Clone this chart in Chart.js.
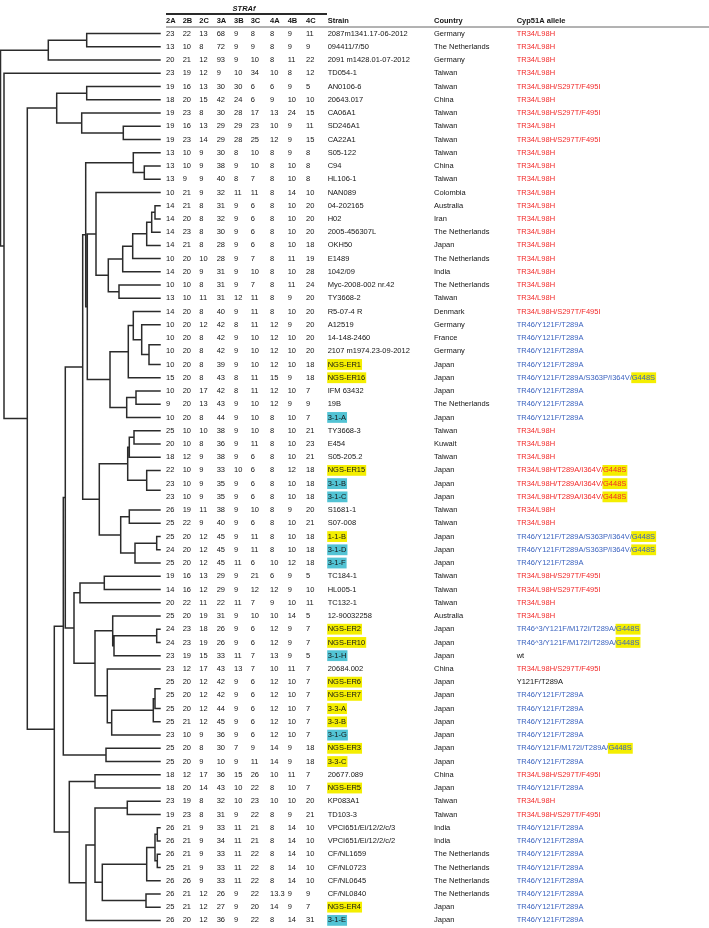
<!DOCTYPE html>
<html><head><meta charset="utf-8">
<script src="https://cdn.jsdelivr.net/npm/chart.js@4.4.1/dist/chart.umd.min.js"></script>
<style>html,body{margin:0;padding:0;background:#fff;overflow:hidden}#wrap{position:relative;width:709px;height:928px}</style>
</head><body><div id="wrap"><canvas id="c" width="709" height="928"></canvas></div>
<script>
// ---------- DATA ----------
const markers = ['2A','2B','2C','3A','3B','3C','4A','4B','4C'];
const strains = ['2087m1341.17-06-2012','094411/7/50','2091 m1428.01-07-2012','TD054-1','AN0106-6','20643.017','CA06A1','SD246A1','CA22A1','S05-122',
 'C94','HL106-1','NAN089','04-202165','H02','2005-456307L','OKH50','E1489','1042/09','Myc-2008-002 nr.42',
 'TY3668-2','R5-07-4 R','A12519','14-148-2460','2107 m1974.23-09-2012','NGS-ER1','NGS-ER16','IFM 63432','19B','3-1-A',
 'TY3668-3','E454','S05-205.2','NGS-ER15','3-1-B','3-1-C','S1681-1','S07-008','1-1-B','3-1-D',
 '3-1-F','TC184-1','HL005-1','TC132-1','12-90032258','NGS-ER2','NGS-ER10','3-1-H','20684.002','NGS-ER6',
 'NGS-ER7','3-3-A','3-3-B','3-1-G','NGS-ER3','3-3-C','20677.089','NGS-ER5','KP083A1','TD103-3',
 'VPCI651/Ei/12/2/c/3','VPCI651/Ei/12/2/c/2','CF/NL1659','CF/NL0723','CF/NL0645','CF/NL0840','NGS-ER4','3-1-E'];
// '' none, 'Y' yellow highlight, 'C' cyan highlight
const strainMark = ['','','','','','','','','','',
 '','','','','','','','','','',
 '','','','','','Y','Y','','','C',
 '','','','Y','C','C','','','Y','C',
 'C','','','','','Y','Y','C','','Y',
 'Y','Y','Y','C','Y','Y','','Y','',''
 ,'','','','','','','Y','C'];
const countries = ['Germany','The Netherlands','Germany','Taiwan','Taiwan','China','Taiwan','Taiwan','Taiwan','Taiwan',
 'China','Taiwan','Colombia','Australia','Iran','The Netherlands','Japan','The Netherlands','India','The Netherlands',
 'Taiwan','Denmark','Germany','France','Germany','Japan','Japan','Japan','The Netherlands','Japan',
 'Taiwan','Kuwait','Taiwan','Japan','Japan','Japan','Taiwan','Taiwan','Japan','Japan',
 'Japan','Taiwan','Taiwan','Taiwan','Australia','Japan','Japan','Japan','China','Japan',
 'Japan','Japan','Japan','Japan','Japan','Japan','China','Japan','Taiwan','Taiwan',
 'India','India','The Netherlands','The Netherlands','The Netherlands','The Netherlands','Japan','Japan'];
const A1='TR34/L98H', A2='TR34/L98H/S297T/F495I', B1='TR46/Y121F/T289A', B2='TR46/Y121F/T289A/S363P/I364V/G448S',
      A3='TR34/L98H/T289A/I364V/G448S', B3='TR46^3/Y121F/M172I/T289A/G448S', B4='TR46/Y121F/M172I/T289A/G448S';
const alleles = [A1,A1,A1,A1,A2,A1,A2,A1,A2,A1,
 A1,A1,A1,A1,A1,A1,A1,A1,A1,A1,
 A1,A2,B1,B1,B1,B1,B2,B1,B1,B1,
 A1,A1,A1,A3,A3,A3,A1,A1,B2,B2,
 B1,A2,A2,A1,A1,B3,B3,'wt',A2,'Y121F/T289A',
 B1,B1,B1,B1,B4,B1,A2,B1,A1,A2,
 B1,B1,B1,B1,B1,B1,B1,B1];
const str2A = [23,13,20,23,19,18,19,19,19,13, 13,13,10,14,14,14,14,10,14,10, 13,14,10,10,10,10,15,10,9,10, 25,20,18,22,23,23,26,25,25,24, 25,19,14,20,25,24,24,23,23,25, 25,25,25,23,25,25,18,18,23,19, 26,26,26,25,26,26,25,26];
const str2B = [22,10,21,19,16,20,23,16,23,10, 10,9,21,21,20,23,21,20,20,10, 10,20,20,20,20,20,20,20,20,20, 10,10,12,10,10,10,19,22,20,20, 20,16,16,22,20,23,23,19,12,20, 20,20,21,10,20,20,12,20,19,23, 21,21,21,21,26,21,21,20];
const str2C = [13,8,12,12,13,15,8,13,14,9, 9,9,9,8,8,8,8,10,9,8, 11,8,12,8,8,8,8,17,13,8, 10,8,9,9,9,9,11,9,12,12, 12,13,12,11,19,18,19,15,17,12, 12,12,12,9,8,9,17,14,8,8, 9,9,9,9,9,12,12,12];
const str3A = [68,72,93,9,30,42,30,29,29,30, 38,40,32,31,32,30,28,28,31,31, 31,40,42,42,42,39,43,42,43,44, 38,36,38,33,35,35,38,40,45,45, 45,29,29,22,31,26,26,33,43,42, 42,44,45,36,30,10,36,43,32,31, 33,34,33,33,33,26,27,36];
const str3B = [9,9,9,10,30,24,28,29,28,8, 9,8,11,9,9,9,9,9,9,9, 12,9,8,9,9,9,8,8,9,9, 9,9,9,10,9,9,9,9,9,9, 11,9,9,11,9,9,9,11,13,9, 9,9,9,9,7,9,15,10,10,9, 11,11,11,11,11,9,9,9];
const str3C = [8,9,10,34,6,6,17,23,25,10, 10,7,11,6,6,6,6,7,10,7, 11,11,11,10,10,10,11,11,10,10, 10,11,6,6,6,6,10,6,11,11, 6,21,12,7,10,6,6,7,7,6, 6,6,6,6,9,11,26,22,23,22, 21,21,22,22,22,22,20,22];
const str4A = [8,8,8,10,6,9,13,10,12,8, 8,8,8,8,8,8,8,8,8,8, 8,8,12,12,12,12,15,12,12,8, 8,8,8,8,8,8,8,8,8,8, 10,6,12,9,10,12,12,13,10,12, 12,12,12,12,14,14,10,8,10,8, 8,8,8,8,8,13.3,14,8];
const str4B = [9,9,11,8,9,10,24,9,9,9, 10,10,14,10,10,10,10,11,10,11, 9,10,9,10,10,10,9,10,9,10, 10,10,10,12,10,10,9,10,10,10, 12,9,9,10,14,9,9,9,11,10, 10,10,10,10,9,9,11,10,10,9, 14,14,14,14,14,9,9,14];
const str4C = [11,9,22,12,5,10,15,11,15,8, 8,8,10,20,20,20,18,19,28,24, 20,20,20,20,20,18,18,7,9,7, 21,23,21,18,18,18,20,21,18,18, 18,5,10,11,5,7,7,5,7,7, 7,7,7,7,18,18,7,7,20,21, 10,10,10,10,10,9,7,31];
// dendrogram merges: [node, childA, childB, height]; numbers are row numbers (1-based)
const tree = [
 ['root','A','B',159.5], ['A','A1',3,111.7], ['A1',1,2,73.3], ['B',4,'C',156], ['C','D','E',132.7],
 ['D','D1','D2',103.3], ['D1',5,6,73.3], ['D2',7,'D3',78.3], ['D3',8,9,36.7],
 ['E','F','G',105.7], ['F','H','F2',96.7], ['F2',55,56,54], ['H','I','J',94.7],
 ['I','I1','I2',77.3], ['I1','I3','I4',74.3], ['I3',10,'I3a',26.7], ['I3a',11,12,15.7],
 ['I4','K','L',72.7], ['K',13,'K1',64], ['K1','K2','K7',51.7], ['K2','K3',19,37.3], ['K3','K4',18,27.3],
 ['K4','K5',17,13.3], ['K5','K6',16,8.3], ['K6',14,15,5], ['K7',20,21,41],
 ['L','L1','L5',50], ['L1','L2',27,31.7], ['L2',22,'L3',26.7], ['L3',23,'L4',18.3], ['L4','L4a',26,11], ['L4a',24,25,0],
 ['L5','L6',30,33.3], ['L6',28,29,24],
 ['I2','M','N',60.7], ['M','M1','M3',32.3], ['M1','M2',33,30.7], ['M2',31,32,26], ['M3',34,'M3a',13.3], ['M3a',35,36,0],
 ['N','N1','N2',39.3], ['N1',37,38,30.7], ['N2','N3',41,25], ['N3',39,40,3.3],
 ['J','O','P',86], ['O','O1',44,80], ['O1',42,43,55.7], ['P','P1','Q',65], ['P1',45,'P2',47.3], ['P2','P3',48,46], ['P3',46,47,3.3],
 ['Q',49,'Q1',52.7], ['Q1','Q2',54,48.3], ['Q2','Q3',53,6.7], ['Q3','Q4',52,5], ['Q4',50,51,0],
 ['G','G1','G2',90.7], ['G1',57,58,65], ['G2','G3',68,74], ['G3','G4','G5',65], ['G4',59,60,32.7],
 ['G5','G6','G9',57.7], ['G6','G7',65,13.3], ['G7','G8a','G8b',5], ['G8a',61,62,2.7], ['G8b',63,64,2.7], ['G9',66,67,14]
];
const strCols = [str2A,str2B,str2C,str3A,str3B,str3C,str4A,str4B,str4C];

// ---------- build dendrogram line points ----------
const nodeMap = {}; tree.forEach(t => nodeMap[t[0]] = t);
const pts = [];
function place(id){
  if (typeof id === 'number') return {x:0, y:id};
  const t = nodeMap[id]; const a = place(t[1]), b = place(t[2]);
  const h = t[3];
  if (h > 0) {
    pts.push({x:a.x, y:a.y},{x:h, y:a.y},{x:h, y:b.y},{x:b.x, y:b.y},{x:null, y:null});
  }
  return {x:h, y:(a.y + b.y)/2};
}
place('root');

// ---------- font ----------
function pickFont(){
  const c = document.createElement('canvas').getContext('2d');
  c.font = '9px "Liberation Sans Narrow", monospace'; const a = c.measureText('TR46/Y121F/T289A').width;
  c.font = '9px monospace'; const b = c.measureText('TR46/Y121F/T289A').width;
  return Math.abs(a-b) > 0.01 ? {fam:'"Liberation Sans Narrow", "Liberation Sans", sans-serif', size:9.2} : {fam:'"Liberation Sans", sans-serif', size:7.5};
}
const F = pickFont();
const RED = '#f22a2a', BLUE = '#3b63bf', TXT = '#151515', YEL = '#f4ee00', CYAN = '#52c3d4';

const colX = [166,182.7,199.3,216.7,234,250.7,270,287.7,306];
const strainX = 327.7, countryX = 434, alleleX = 516.7;

const tablePlugin = {
  id: 'strTable',
  afterDraw(chart){
    const ctx = chart.ctx, ys = chart.scales.y;
    ctx.save();
    ctx.textBaseline = 'middle'; ctx.textAlign = 'left';
    // header
    ctx.fillStyle = TXT;
    ctx.font = 'italic bold ' + F.size + 'px ' + F.fam;
    ctx.textAlign = 'center'; ctx.fillText('STRAf', 244, 8.5); ctx.textAlign = 'left';
    ctx.strokeStyle = '#2a2a2a'; ctx.lineWidth = 1.8;
    ctx.beginPath(); ctx.moveTo(166, 14); ctx.lineTo(327, 14); ctx.stroke();
    ctx.font = 'bold ' + F.size + 'px ' + F.fam;
    markers.forEach((m,j) => ctx.fillText(m, colX[j], 21));
    ctx.fillText('Strain', strainX, 21); ctx.fillText('Country', countryX, 21); ctx.fillText('Cyp51A allele', alleleX, 21);
    ctx.strokeStyle = '#666'; ctx.lineWidth = 1;
    ctx.beginPath(); ctx.moveTo(166, 27); ctx.lineTo(709, 27); ctx.stroke();
    // rows
    ctx.font = F.size + 'px ' + F.fam;
    for (let i = 0; i < strains.length; i++) {
      const y = ys.getPixelForValue(i + 1);
      ctx.fillStyle = TXT;
      strCols.forEach((col,j) => ctx.fillText(String(col[i]), colX[j], y));
      const s = strains[i];
      if (strainMark[i]) {
        const w = ctx.measureText(s).width;
        ctx.fillStyle = strainMark[i] === 'Y' ? YEL : CYAN;
        ctx.fillRect(strainX - 0.5, y - 5.4, w + 1.5, 10.8);
      }
      ctx.fillStyle = TXT; ctx.fillText(s, strainX, y);
      ctx.fillText(countries[i], countryX, y);
      const al = alleles[i];
      const col = al.startsWith('TR34') ? RED : (al.startsWith('TR46') ? BLUE : TXT);
      const k = al.indexOf('G448S');
      if (k >= 0) {
        const pre = al.slice(0, k);
        const wp = ctx.measureText(pre).width, wg = ctx.measureText('G448S').width;
        ctx.fillStyle = YEL; ctx.fillRect(alleleX + wp - 0.5, y - 5.4, wg + 1.5, 10.8);
      }
      ctx.fillStyle = col; ctx.fillText(al, alleleX, y);
    }
    ctx.restore();
  }
};

new Chart(document.getElementById('c'), {
  type: 'scatter',
  data: { datasets: [{ data: pts, showLine: true, borderColor: '#2b2b2b', borderWidth: 1.5, pointRadius: 0, pointHoverRadius: 0,
    spanGaps: false, clip: false, tension: 0, borderCapStyle: 'square' }] },
  options: {
    responsive: false, animation: false, events: [],
    layout: { padding: { left: 0, right: 549, top: 27, bottom: 1 } },
    plugins: { legend: { display: false }, tooltip: { enabled: false } },
    scales: {
      x: { type: 'linear', reverse: true, min: 0, max: 160, display: false },
      y: { type: 'linear', reverse: true, min: 0.5, max: 68.5, display: false }
    }
  },
  plugins: [tablePlugin]
});
</script></body></html>
